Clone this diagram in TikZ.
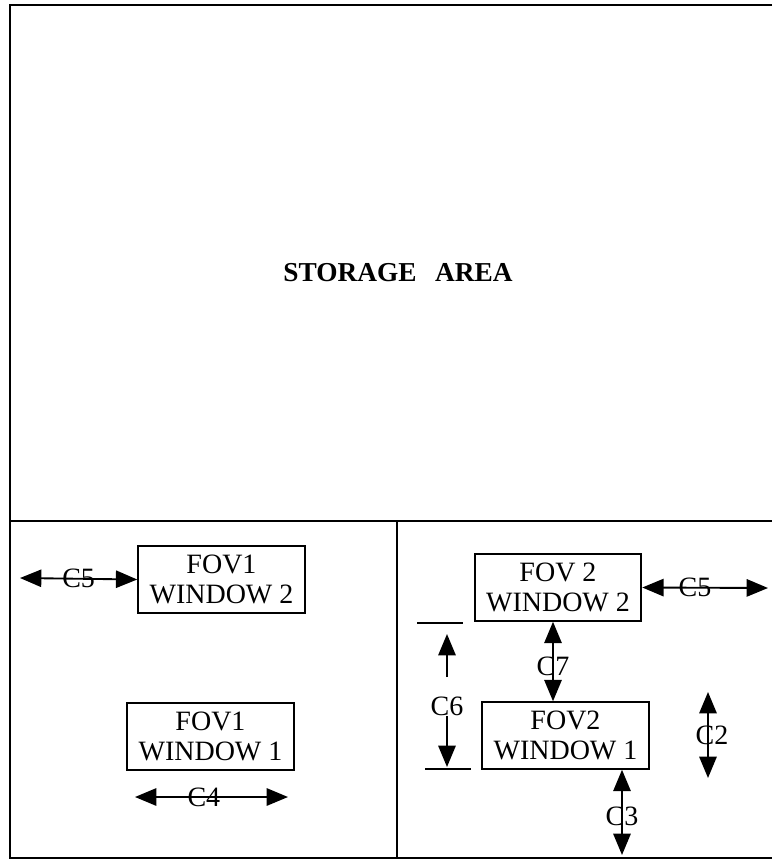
\documentclass[tikz,border=0pt]{standalone}
\usepackage{fontspec}
\setmainfont{Liberation Serif}
\usetikzlibrary{arrows.meta,positioning}

\begin{document}
\begin{tikzpicture}[
    x=0.75pt, y=-0.75pt,
    line width=1.4pt,
    >={Triangle[length=16pt,width=13pt]},
    frame/.style={line width=1.8pt},
    winbox/.style={
        draw,
        align=center,
        minimum width=125pt,
        minimum height=50pt,
        inner sep=0pt,
        font=\fontsize{21}{22.5}\selectfont
    },
    clabel/.style={font=\fontsize{21}{22}\selectfont, inner sep=0pt},
    line/.style={<->}
]
    \useasboundingbox (0,0) rectangle (772,860);

    \draw[frame] (772,5) -- (10,5) -- (10,858) -- (772,858);
    \draw[frame] (10,521) -- (772,521);
    \draw[frame] (397,521) -- (397,858);

    \node[font=\bfseries\fontsize{20.5}{24}\selectfont] (storage) at (398,273) {STORAGE\hspace{14pt}AREA};

    \node[winbox] (fov1w2) at (221.5,579.5) {FOV1\\WINDOW 2};
    \node[winbox] (fov1w1) at (210.5,736.5) {FOV1\\WINDOW 1};
    \node[winbox] (fov2w2) at (558,587.5) {FOV 2\\WINDOW 2};
    \node[winbox] (fov2w1) at (565.5,735.5) {FOV2\\WINDOW 1};

    \coordinate (c5left) at (20,578);
    \coordinate (c5right) at (768,588);
    \coordinate (c4a) at (135,797);
    \coordinate (c4b) at (288,797);
    \coordinate (c7x) at (553,650);
    \coordinate (c3end) at (622,855);
    \coordinate (c2top) at (708,692);
    \coordinate (c2bot) at (708,778);

    \draw[line] (c5left) -- node[clabel] {C5} (fov1w2.west);
    \draw[line] (c4a) -- node[clabel, pos=0.45] {C4} (c4b);
    \draw[line] (fov2w2.east) -- node[clabel, pos=0.42] {C5} (c5right);
    \draw[line] (fov2w2.south -| c7x) -- node[clabel, yshift=-4pt] {C7} (fov2w1.north -| c7x);
    \draw[line] (c3end |- fov2w1.south) -- node[clabel, yshift=-3pt] {C3} (c3end);
    \draw[line] (c2top) -- node[clabel, xshift=3pt] {C2} (c2bot);

    \coordinate (bartopa) at (417,623);
    \coordinate (bartopb) at (463,623);
    \coordinate (barbota) at (425,769);
    \coordinate (barbotb) at (471,769);
    \draw (bartopa) -- (bartopb);
    \draw (barbota) -- (barbotb);
    \node[clabel] (c6) at (447,706) {C6};
    \coordinate (c6up) at (447,677);
    \coordinate (c6uptip) at (447,634);
    \coordinate (c6dntip) at (447,767);
    \draw[->] (c6up) -- (c6uptip);
    \draw[->] (c6.south) -- (c6dntip);
\end{tikzpicture}
\end{document}
